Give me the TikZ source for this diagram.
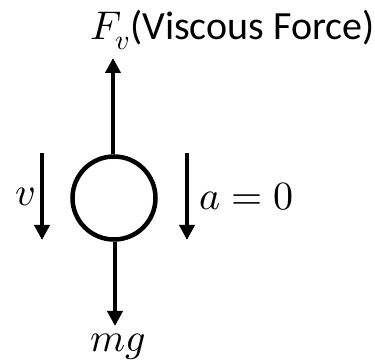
\documentclass[tikz,border=0pt]{standalone}
\usepackage{fontspec}
\usepackage{unicode-math}
\setmathfont{Latin Modern Math}
\newfontfamily\calibri{Carlito}
\usepackage{tikz}
\usetikzlibrary{arrows.meta,positioning,calc}

\begin{document}
\begin{tikzpicture}[x=1pt,y=-1pt,
  ball/.style={circle, draw, line width=4.5pt, minimum size=83pt, inner sep=0pt},
  force/.style={line width=4pt, -{Triangle[width=15pt,length=15pt]}},
  flabel/.style={font=\fontsize{40}{44}\selectfont, inner sep=0pt}
]
\useasboundingbox (0,0) rectangle (375,363);
\node[ball] (ball) at (114,198) {};
\coordinate (fvtip) at (113,58);
\coordinate (mgtip) at (115,326);
\coordinate (vtop) at (42,153);
\coordinate (vtip) at (42,240);
\coordinate (atop) at (187,153);
\coordinate (atip) at (187,240);
\draw[force] (ball.north -| fvtip) -- (fvtip);
\draw[force] (ball.south -| mgtip) -- (mgtip);
\draw[force] (vtop) -- (vtip);
\draw[force] (atop) -- (atip);
\node[flabel, anchor=base west] (fvlabel) at (90,40) {$F_v${\calibri(Viscous Force)}};
\node[flabel, left=6pt of $(vtop)!0.5!(vtip)$] (vlabel) {$v$};
\node[flabel, right=12pt of $(atop)!0.5!(atip)$] (alabel) {$a=0$};
\node[flabel, anchor=base] (mglabel) at (118,352) {$mg$};
\end{tikzpicture}
\end{document}
